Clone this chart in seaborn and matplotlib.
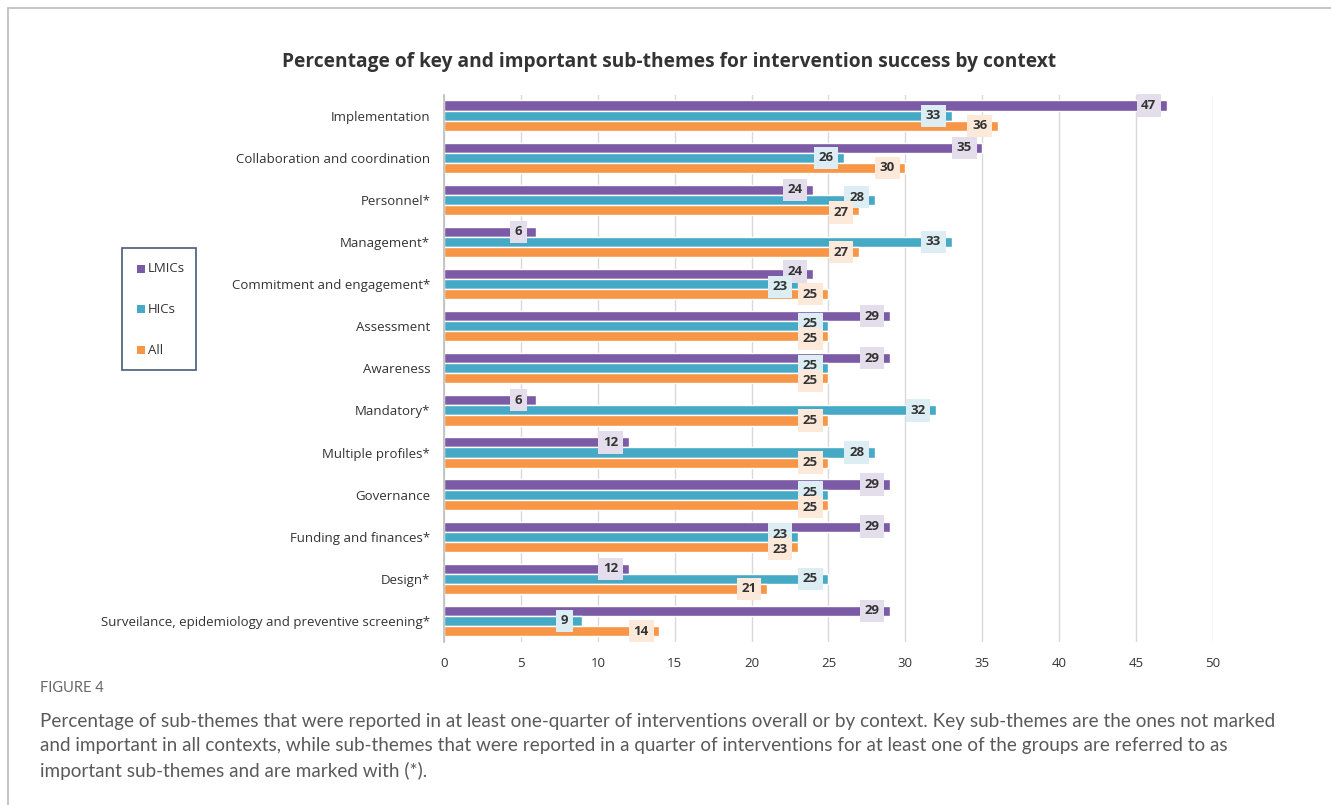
import matplotlib
matplotlib.use("Agg")
import matplotlib.pyplot as plt
from matplotlib.patches import Rectangle
import seaborn as sns
import pandas as pd

categories = [
    "Implementation",
    "Collaboration and coordination",
    "Personnel*",
    "Management*",
    "Commitment and engagement*",
    "Assessment",
    "Awareness",
    "Mandatory*",
    "Multiple profiles*",
    "Governance",
    "Funding and finances*",
    "Design*",
    "Surveilance, epidemiology and preventive screening*",
]
lmics = [47, 35, 24, 6, 24, 29, 29, 6, 12, 29, 29, 12, 29]
hics = [33, 26, 28, 33, 23, 25, 25, 32, 28, 25, 23, 25, 9]
all_ = [36, 30, 27, 27, 25, 25, 25, 25, 25, 25, 23, 21, 14]
series = ["LMICs", "HICs", "All"]
xticks = [0, 5, 10, 15, 20, 25, 30, 35, 40, 45, 50]

colors = {"LMICs": "#7B5BA6", "HICs": "#46AAC6", "All": "#F79646"}
box_colors = {"LMICs": "#E4DEEC", "HICs": "#DCEEF4", "All": "#FCE9DA"}

rows = []
for s, vals in zip(series, [lmics, hics, all_]):
    for c, v in zip(categories, vals):
        rows.append({"category": c, "series": s, "value": v})
df = pd.DataFrame(rows)

sns.set_theme(style="white")
plt.rcParams["font.family"] = ["Open Sans", "DejaVu Sans"]

W, H = 1331, 805
fig = plt.figure(figsize=(W / 100, H / 100), dpi=100)
ax = fig.add_axes([0.3336, 0.2025, 0.5777, 0.68])

sns.barplot(data=df, y="category", x="value", hue="series", orient="h",
            palette=colors, order=categories, hue_order=series,
            width=0.72, ax=ax, legend=False, saturation=1)

ax.set_xlim(0, 50)
ax.set_ylim(len(categories) - 0.5, -0.5)
ax.set_xticks(xticks)
ax.set_xticklabels([str(t) for t in xticks], fontsize=9.5, color="#333333")
ax.tick_params(axis="x", length=5, color="#D9D9D9", pad=6)
ax.tick_params(axis="y", length=0, pad=10)
for lab in ax.get_yticklabels():
    lab.set_fontsize(9.5)
    lab.set_color("#333333")
ax.set_xlabel("")
ax.set_ylabel("")
ax.grid(axis="x", color="#D9D9D9", linewidth=1)
ax.set_axisbelow(True)
for sp in ["top", "right", "bottom"]:
    ax.spines[sp].set_visible(False)
ax.spines["left"].set_color("#BFBFBF")

# data labels with simple vertical collision avoidance (in pixels)
px_x = 0.5777 * W / 50.0
px_y = 0.68 * H / len(categories)
label_off_px = -18
for ci in range(len(categories)):
    labs = []
    for cont, s in zip(ax.containers, series):
        bar = cont[ci]
        w = bar.get_width()
        yc = bar.get_y() + bar.get_height() / 2
        labs.append({"s": s, "w": w, "yc": yc,
                     "xp": w * px_x + label_off_px, "yp": yc * px_y, "dy": 0.0})
    for _ in range(60):
        moved = False
        for a in range(len(labs)):
            for b in range(a + 1, len(labs)):
                la, lb = labs[a], labs[b]
                if abs(la["xp"] - lb["xp"]) < 30:
                    ya = la["yp"] + la["dy"]
                    yb = lb["yp"] + lb["dy"]
                    d = yb - ya
                    if abs(d) < 15:
                        push = (15 - abs(d)) / 2 + 0.1
                        sgn = 1 if d >= 0 else -1
                        la["dy"] -= sgn * push
                        lb["dy"] += sgn * push
                        moved = True
        if not moved:
            break
    for l in labs:
        ax.annotate(f"{int(round(l['w']))}", xy=(l["w"], l["yc"]),
                    xytext=(label_off_px * 0.72, -l["dy"] * 0.72),
                    textcoords="offset points", ha="center", va="center",
                    fontsize=9.5, fontweight="bold", color="#333333",
                    bbox=dict(boxstyle="square,pad=0.35", fc=box_colors[l["s"]], ec="none"),
                    zorder=5)

# title
fig.text(0.5026, 1 - 62 / H,
         "Percentage of key and important sub-themes for intervention success by context",
         ha="center", va="center", fontsize=13.75, fontweight="bold", color="#333333")

# legend
fig.patches.append(Rectangle((122 / W, 1 - 370 / H), 74 / W, 122 / H,
                             transform=fig.transFigure, fill=False,
                             ec="#4A5A7A", lw=1.2))
for i, s in enumerate(series):
    yy = 1 - (269 + i * 40.5) / H
    fig.patches.append(Rectangle((137 / W, yy - 4 / H), 8 / W, 8 / H,
                                 transform=fig.transFigure, fc=colors[s], ec="none"))
    fig.text(148 / W, yy, s, ha="left", va="center", fontsize=9.5, color="#333333")

# outer frame
fig.patches.append(Rectangle((8 / W, -0.01), 1.05, 1 - 8 / H + 0.01,
                             transform=fig.transFigure, fill=False,
                             ec="#BBBBBB", lw=1.2))

# caption
fig.text(40 / W, 1 - 688 / H, "FIGURE 4", ha="left", va="center",
         fontsize=10.5, color="#666666", family=["Lato", "DejaVu Sans"])
caption = ("Percentage of sub-themes that were reported in at least one-quarter of interventions overall or by context. Key sub-themes are the ones not marked\n"
           "and important in all contexts, while sub-themes that were reported in a quarter of interventions for at least one of the groups are referred to as\n"
           "important sub-themes and are marked with (*).")
fig.text(40 / W, 1 - 713 / H, caption, ha="left", va="top",
         fontsize=13.6, color="#5A5A5A", linespacing=1.5,
         family=["Lato", "DejaVu Sans"])

fig.savefig("out.png", dpi=100)
